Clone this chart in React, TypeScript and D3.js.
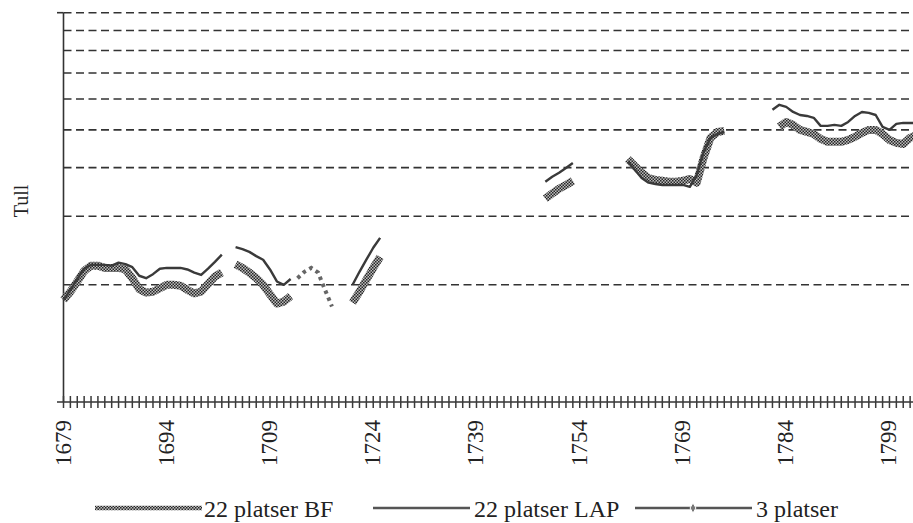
import { useEffect, useRef } from 'react';
import * as d3 from 'd3';

const _ = null;

// years 1679..1803, one value per year (null = no data)
const startYear = 1679;
const endYear = 1803;

const bfValues: (number | null)[] = [
  1.83, 1.92, 2.04, 2.17, 2.24, 2.24, 2.21, 2.21, 2.21, 2.19, 2.08, 1.95, 1.91, 1.92, 1.96, 2.0, 2.0, 1.99, 1.94, 1.9, 1.92, 2.01, 2.1, 2.15,
  _,
  2.26, 2.21, 2.15, 2.08, 2.0, 1.89, 1.79, 1.81, 1.87,
  _, _, _, _, _, _, _, _,
  1.8, 1.92, 2.06, 2.21, 2.36,
  _, _, _, _, _, _, _, _, _, _, _, _, _, _, _, _, _, _, _, _, _, _, _,
  3.33, 3.43, 3.53, 3.61, 3.7,
  _, _, _, _, _, _, _,
  4.21, 4.04, 3.88, 3.76, 3.72, 3.7, 3.68, 3.68, 3.7, 3.74, 3.66, 4.24, 4.77, 4.94, 4.97,
  _, _, _, _, _, _, _,
  5.09, 5.24, 5.15, 5.0, 4.94, 4.88, 4.74, 4.66, 4.66, 4.66, 4.71, 4.8, 4.91, 5.0, 5.0, 4.88, 4.71, 4.63, 4.6, 4.77, 4.85,
];

const lapValues: (number | null)[] = [
  1.83, 1.94, 2.07, 2.2, 2.25, 2.25, 2.25, 2.24, 2.28, 2.26, 2.22, 2.11, 2.08, 2.13, 2.2, 2.21, 2.21, 2.21, 2.19, 2.15, 2.12, 2.2, 2.29, 2.39,
  _,
  2.5, 2.47, 2.43, 2.37, 2.32, 2.19, 2.04, 2.0, 2.07,
  _, _, _, _, _, _, _, _,
  2.0, 2.16, 2.32, 2.49, 2.64,
  _, _, _, _, _, _, _, _, _, _, _, _, _, _, _, _, _, _, _, _, _, _, _,
  3.68, 3.79, 3.88, 3.99, 4.11,
  _, _, _, _, _, _, _,
  4.14, 3.95, 3.76, 3.66, 3.63, 3.61, 3.61, 3.61, 3.61, 3.57, 3.83, 4.39, 4.77, 4.88, 4.94,
  _, _, _, _, _, _,
  5.63, 5.8, 5.73, 5.56, 5.46, 5.43, 5.37, 5.12, 5.12, 5.15, 5.12, 5.24, 5.43, 5.56, 5.53, 5.46, 5.09, 5.0, 5.18, 5.21, 5.21, 5.21,
];

const threeYears = [1713, 1714, 1715, 1716, 1717, 1718];
const threeValues = [2.08, 2.16, 2.21, 2.15, 1.94, 1.76];

const gridValues = [2, 3, 4, 5, 6, 7, 8, 9, 10];
const labelYears = [1679, 1694, 1709, 1724, 1739, 1754, 1769, 1784, 1799];

const legendItems = [
  { key: 'bf', label: '22 platser BF' },
  { key: 'lap', label: '22 platser LAP' },
  { key: 'three', label: '3 platser' },
];

const WIDTH = 913;
const HEIGHT = 523;
const FONT = 'Liberation Serif';

export default function App() {
  const svgRef = useRef<SVGSVGElement>(null);

  useEffect(() => {
    if (!svgRef.current) return;
    const svg = d3.select(svgRef.current);
    svg.selectAll('*').remove();

    const years = d3.range(startYear, endYear + 1);

    const x = d3.scaleLinear().domain([startYear, endYear]).range([63.5, 917]);
    const y = d3.scaleLog().domain([1, 10]).range([402, 12.7]);

    svg.append('rect').attr('width', WIDTH).attr('height', HEIGHT).attr('fill', '#fff');

    // checkered fill used for the BF band
    const defs = svg.append('defs');
    const pat = defs.append('pattern')
      .attr('id', 'checker')
      .attr('width', 3)
      .attr('height', 3)
      .attr('patternUnits', 'userSpaceOnUse');
    pat.append('rect').attr('width', 3).attr('height', 3).attr('fill', '#bdbdbd');
    pat.append('rect').attr('width', 1.5).attr('height', 1.5).attr('fill', '#262626');
    pat.append('rect').attr('x', 1.5).attr('y', 1.5).attr('width', 1.5).attr('height', 1.5).attr('fill', '#262626');

    // dashed gridlines
    svg.append('g')
      .selectAll('line')
      .data(gridValues)
      .join('line')
      .attr('x1', 63.5)
      .attr('x2', WIDTH)
      .attr('y1', d => y(d))
      .attr('y2', d => y(d))
      .attr('stroke', '#333')
      .attr('stroke-width', 1.6)
      .attr('stroke-dasharray', '8 4.5');

    // y axis
    svg.append('line')
      .attr('x1', 63.5).attr('x2', 63.5)
      .attr('y1', y(10)).attr('y2', y(1))
      .attr('stroke', '#333').attr('stroke-width', 1.6);
    svg.append('line')
      .attr('x1', 57).attr('x2', 63.5)
      .attr('y1', y(10)).attr('y2', y(10))
      .attr('stroke', '#333').attr('stroke-width', 1.6);

    // x axis with a tick every year
    svg.append('line')
      .attr('x1', 57).attr('x2', WIDTH)
      .attr('y1', y(1)).attr('y2', y(1))
      .attr('stroke', '#333').attr('stroke-width', 1.6);
    svg.append('g')
      .selectAll('line')
      .data(years)
      .join('line')
      .attr('x1', d => x(d))
      .attr('x2', d => x(d))
      .attr('y1', y(1) - 6)
      .attr('y2', y(1) + 6)
      .attr('stroke', '#3a3a3a')
      .attr('stroke-width', 1.5);

    svg.append('g')
      .selectAll('text')
      .data(labelYears)
      .join('text')
      .attr('transform', d => `translate(${x(d) + 7},420) rotate(-90)`)
      .attr('text-anchor', 'end')
      .attr('fill', '#222')
      .attr('font-family', FONT)
      .attr('font-size', 23)
      .text(d => d);

    svg.append('text')
      .attr('transform', 'translate(28,201) rotate(-90)')
      .attr('text-anchor', 'middle')
      .attr('fill', '#222')
      .attr('font-family', FONT)
      .attr('font-size', 20)
      .text('Tull');

    const line = d3.line<number | null>()
      .defined(d => d != null)
      .x((_d, i) => x(years[i]))
      .y(d => y(d as number));

    // BF band
    svg.append('path')
      .attr('d', line(bfValues))
      .attr('fill', 'none')
      .attr('stroke', 'url(#checker)')
      .attr('stroke-width', 8)
      .attr('stroke-linejoin', 'round');

    // LAP line
    svg.append('path')
      .attr('d', line(lapValues))
      .attr('fill', 'none')
      .attr('stroke', '#3a3a3a')
      .attr('stroke-width', 2.4)
      .attr('stroke-linejoin', 'round');

    // 3 platser, dotted
    const threeLine = d3.line<number>()
      .x((_d, i) => x(threeYears[i]))
      .y(d => y(d));
    svg.append('path')
      .attr('d', threeLine(threeValues))
      .attr('fill', 'none')
      .attr('stroke', '#666')
      .attr('stroke-width', 4)
      .attr('stroke-dasharray', '3.5 4');

    // legend
    const ly = 508;
    const legend = svg.append('g');
    legend.append('line')
      .attr('x1', 95).attr('x2', 202).attr('y1', ly).attr('y2', ly)
      .attr('stroke', 'url(#checker)').attr('stroke-width', 4.5);
    legend.append('line')
      .attr('x1', 373).attr('x2', 470).attr('y1', ly).attr('y2', ly)
      .attr('stroke', '#555').attr('stroke-width', 2.4);
    legend.append('line')
      .attr('x1', 635).attr('x2', 752).attr('y1', ly).attr('y2', ly)
      .attr('stroke', '#555').attr('stroke-width', 2.4);
    legend.append('path')
      .attr('d', d3.symbol(d3.symbolDiamond, 30)())
      .attr('transform', `translate(693,${ly})`)
      .attr('fill', '#777')
      .attr('stroke', '#fff')
      .attr('stroke-width', 1);

    const labelX: Record<string, number> = { bf: 204, lap: 474, three: 756 };
    legend.selectAll('text')
      .data(legendItems)
      .join('text')
      .attr('x', d => labelX[d.key])
      .attr('y', ly + 9)
      .attr('fill', '#222')
      .attr('font-family', FONT)
      .attr('font-size', 24)
      .text(d => d.label);
  }, []);

  return (
    <svg
      ref={svgRef}
      width={WIDTH}
      height={HEIGHT}
      style={{ position: 'absolute', left: 0, top: 0, display: 'block' }}
    />
  );
}
